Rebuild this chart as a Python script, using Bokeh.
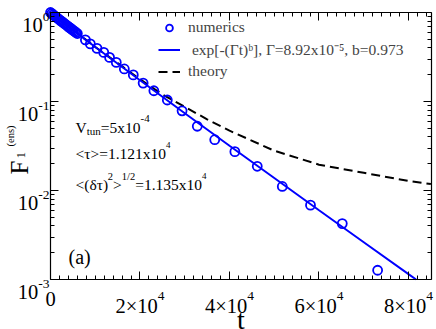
import math
from bokeh.plotting import figure
from bokeh.models import FixedTicker, LinearAxis, LogAxis, Label, Legend, LegendItem
from bokeh.embed import file_html
from bokeh.resources import INLINE

# ---------------- data ----------------
NUM_T = [0, 300, 600, 900, 1200, 1500, 1800, 2100, 2400, 2700, 3000, 3300, 3600, 3900,
         4200, 4500, 4800, 5100, 5400, 5700, 6000,
         7800, 8900, 10400, 11900, 13200, 14700, 16500, 18500, 20700, 23100, 26100,
         29400, 32800, 36700, 41200, 46200, 51800, 58100, 65200, 73100]
NUM_F = [1.0, 0.971, 0.944, 0.917, 0.892, 0.868, 0.845, 0.822, 0.800, 0.779, 0.758, 0.738,
         0.718, 0.699, 0.681, 0.663, 0.645, 0.628, 0.612, 0.596, 0.580,
         0.492, 0.444, 0.395, 0.356, 0.313, 0.275, 0.232, 0.199, 0.161, 0.132, 0.104,
         0.0785, 0.0527, 0.0372, 0.0273, 0.0187, 0.0111, 0.00684, 0.00425, 0.00127]

FIT_T = [0, 1000, 2000, 5000, 10000, 20000, 30000, 40000, 50000, 60000, 70000, 80000, 81700]
FIT_F = [1.0, 0.909, 0.830, 0.634, 0.409, 0.173, 0.0738, 0.0318, 0.0138, 0.00600,
         0.00262, 0.00115, 0.001]

TH_T = [0, 5000, 10000, 15000, 20000, 25000, 30000, 35000, 40000, 50000, 60000, 70000,
        80000, 85000]
TH_F = [1.0, 0.64, 0.41, 0.27, 0.178, 0.12, 0.087, 0.063, 0.047, 0.028, 0.0195, 0.0158,
        0.0128, 0.0118]

X_MIN, X_MAX = 0, 85140
Y_MIN, Y_MAX = 1e-3, 1.0
X_TICKS = [0, 20000, 40000, 60000, 80000]
X_TICK_LABELS = [("0", ""), ("2×10", "4"), ("4×10", "4"), ("6×10", "4"), ("8×10", "4")]
Y_TICKS = [1e-3, 1e-2, 1e-1, 1.0]
Y_TICK_LABELS = [("10", "-3"), ("10", "-2"), ("10", "-1"), ("10", "0")]

LEGEND_LABELS = ["numerics", " exp[-(Γt)ᵇ], Γ=8.92x10⁻⁵, b=0.973", "theory"]

FONT = "Liberation Serif"

# --------------- layout (px) ---------------
W, H = 436, 329
FX0, FX1, FY0, FY1 = 50, 431, 12, 279   # data box: left, right, top, bottom

ppx = (FX1 - FX0) / (X_MAX - X_MIN)
xr = (X_MIN - FX0 / ppx, X_MAX + (W - FX1) / ppx)
dec = math.log10(Y_MAX) - math.log10(Y_MIN)
ppd = (FY1 - FY0) / dec
yr = (10 ** (math.log10(Y_MIN) - (H - FY1) / ppd), 10 ** (math.log10(Y_MAX) + FY0 / ppd))


def sx(xp):
    return xp


def sy(yp):
    return H - yp


ADV = {' ': 250, 'x': 500, '×': 564, 'e': 444, 'p': 500, '[': 333, ']': 333, '(': 333,
       ')': 333, '-': 333, 'Γ': 578, 't': 278, ',': 250, '=': 564, '.': 250, 'b': 500,
       'V': 722, 'u': 500, 'n': 500, '<': 564, '>': 564, 'τ': 400, 'δ': 450, '/': 278,
       'a': 444, 's': 389, 'F': 556}


def tw(s, size):
    return sum(ADV.get(c, 500) for c in s) * size / 1000.0


p = figure(width=W, height=H, output_backend="svg", toolbar_location=None,
           x_range=xr, y_range=yr, y_axis_type="log",
           min_border_left=0, min_border_right=0, min_border_top=0, min_border_bottom=0)
p.xgrid.visible = False
p.ygrid.visible = False
p.outline_line_color = None
p.background_fill_color = "white"
p.border_fill_color = "white"

x_minor = [v for v in range(2000, 85141, 2000) if v % 20000 != 0]
y_minor = [k * 10.0 ** d for d in (-3, -2, -1) for k in range(2, 10)]
xt = FixedTicker(ticks=X_TICKS, minor_ticks=x_minor)
yt = FixedTicker(ticks=Y_TICKS, minor_ticks=y_minor)


def style_axis(ax, ticker, loc, bounds):
    ax.ticker = ticker
    ax.fixed_location = loc
    ax.bounds = bounds
    ax.major_label_text_font_size = "2px"
    ax.major_label_text_alpha = 0
    ax.major_label_standoff = 0
    ax.axis_line_color = "black"
    ax.axis_line_width = 1.2
    ax.major_tick_in = 8
    ax.major_tick_out = 0
    ax.minor_tick_in = 4
    ax.minor_tick_out = 0
    ax.major_tick_line_color = "black"
    ax.minor_tick_line_color = "black"


style_axis(p.xaxis[0], xt, Y_MIN, (X_MIN, X_MAX))
style_axis(p.yaxis[0], yt, X_MIN, (Y_MIN, Y_MAX))
top_ax = LinearAxis()
style_axis(top_ax, xt, Y_MAX, (X_MIN, X_MAX))
p.add_layout(top_ax, "above")
right_ax = LogAxis()
style_axis(right_ax, yt, X_MAX, (Y_MIN, Y_MAX))
p.add_layout(right_ax, "right")

# --------------- glyphs ---------------
r_th = p.line(TH_T, TH_F, line_color="black", line_width=2, line_dash="9 5")
r_fit = p.line(FIT_T, FIT_F, line_color="#0000ff", line_width=2)
r_num = p.scatter(NUM_T, NUM_F, marker="circle", size=9, fill_color=None,
                  line_color="#0000ff", line_width=1.8)

legend = Legend(items=[LegendItem(label=LEGEND_LABELS[0], renderers=[r_num]),
                       LegendItem(label=LEGEND_LABELS[1], renderers=[r_fit]),
                       LegendItem(label=LEGEND_LABELS[2], renderers=[r_th])],
                location=(158, sy(80)), padding=0, margin=0, spacing=2,
                glyph_width=22, glyph_height=17, label_height=17, label_standoff=8,
                label_text_font=FONT, label_text_font_size="15.5px",
                background_fill_alpha=0, border_line_alpha=0)
p.add_layout(legend, "center")


def add_text(text, size, x, y, x_units="screen", y_units="screen", dx=0, dy=0,
             angle=0, align="left"):
    p.add_layout(Label(text=text, x=x, y=y, x_units=x_units, y_units=y_units,
                       x_offset=dx, y_offset=dy, angle=angle, text_font=FONT,
                       text_font_size=f"{size}px", text_color="black",
                       text_align=align, text_baseline="alphabetic"))


def rich(segs, x, y, x_units="screen", y_units="screen", align="left", dy=0):
    total = sum(tw(s, sz) for s, sz, _ in segs)
    start = {"left": 0, "center": -total / 2, "right": -total}[align]
    cur = start
    for s, sz, rise in segs:
        add_text(s, sz, x, y, x_units, y_units, dx=cur, dy=dy + rise)
        cur += tw(s, sz)


# x tick labels
for v, (main, sup) in zip(X_TICKS, X_TICK_LABELS):
    if sup:
        rich([(main, 20.5, 0), (sup, 13.5, 10)], v, sy(305), x_units="data", align="center")
    else:
        rich([(main, 20.5, 0)], v, sy(298), x_units="data", align="center")

# y tick labels
for v, (main, sup) in zip(Y_TICKS, Y_TICK_LABELS):
    rich([(main, 20.5, 0), (sup, 13.5, 8)], sx(49), v, y_units="data", align="right",
         dy=-12.5)

# axis titles
add_text("t", 28, sx(240.5), sy(319), align="center")
add_text("F", 25, sx(18.5), sy(174), angle=math.pi / 2)
add_text("1", 13, sx(20), sy(158), angle=math.pi / 2)
add_text("(ens)", 10.5, sx(9.5), sy(146), angle=math.pi / 2)

# annotations
rich([("V", 15.5, 0), ("tun", 11, -3), ("=5x10", 15.5, 0), ("-4", 11, 9)],
     sx(75), sy(127))
rich([("<τ>=1.121x10", 15.5, 0), ("4", 9, 9)], sx(75), sy(153))
rich([("<(δτ)", 15.5, 0), ("2", 10.5, 8), (">", 15.5, 0), ("1/2", 10.5, 8),
      ("=1.135x10", 15.5, 0), ("4", 9, 9)], sx(75), sy(184))
add_text("(a)", 20, sx(68), sy(256))

open("out.html", "w").write(file_html(p, INLINE))
